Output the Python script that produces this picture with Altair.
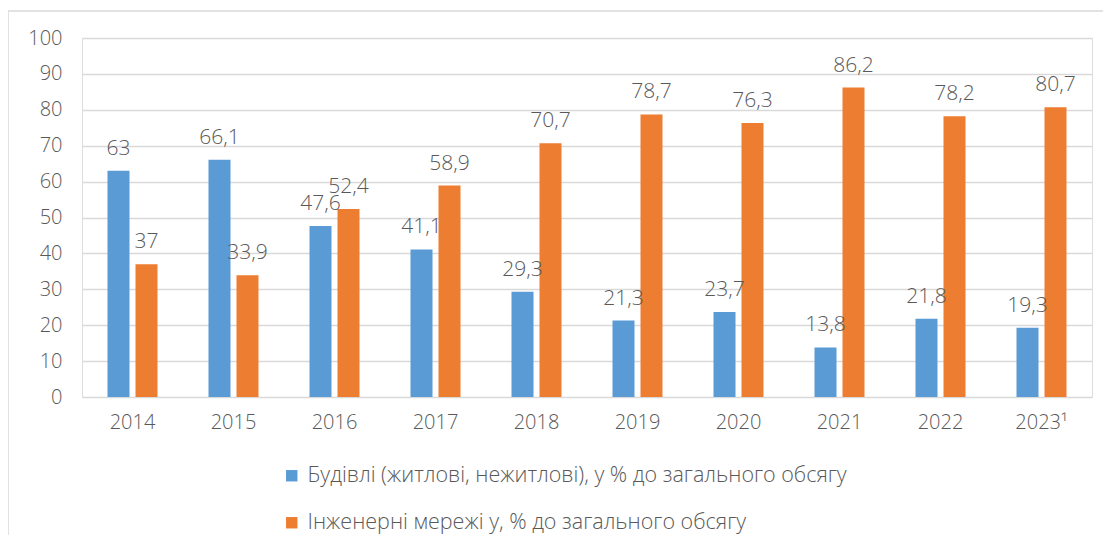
import altair as alt
import pandas as pd

years = ["2014", "2015", "2016", "2017", "2018", "2019", "2020", "2021", "2022", "2023¹"]
buildings = [63, 66.1, 47.6, 41.1, 29.3, 21.3, 23.7, 13.8, 21.8, 19.3]
networks = [37, 33.9, 52.4, 58.9, 70.7, 78.7, 76.3, 86.2, 78.2, 80.7]
series = ["Будівлі (житлові, нежитлові), у % до загального обсягу",
          "Інженерні мережі у, % до загального обсягу"]
colors = ["#5B9BD5", "#ED7D31"]

rows = []
for y, b, n in zip(years, buildings, networks):
    rows.append({"year": y, "series": series[0], "value": b})
    rows.append({"year": y, "series": series[1], "value": n})
df = pd.DataFrame(rows)
df["label"] = df["value"].map(lambda v: f"{v:g}".replace(".", ","))

FONT = "Open Sans"
TXT = "#595959"

x_enc = alt.X("year:N", sort=years, title=None,
              scale=alt.Scale(paddingInner=0, paddingOuter=0),
              axis=alt.Axis(labelAngle=0, ticks=False, domain=False, grid=False,
                            labelPadding=15, labelFontSize=20, labelColor=TXT,
                            labelFont=FONT, labelFontWeight=300))
xoff_enc = alt.XOffset("series:N", sort=series,
                       scale=alt.Scale(paddingInner=0.214, paddingOuter=0.911))
y_enc = alt.Y("value:Q", title=None,
              scale=alt.Scale(domain=[0, 100], nice=False),
              axis=alt.Axis(values=list(range(0, 101, 10)), ticks=False, domain=False,
                            labelOverlap=False, tickCount=11,
                            gridColor="#d9d9d9", gridWidth=1.5, labelPadding=20,
                            labelFontSize=20, labelColor=TXT, labelFont=FONT,
                            labelFontWeight=300))

base = alt.Chart(df)

bars = base.mark_bar().encode(
    x=x_enc,
    xOffset=xoff_enc,
    y=y_enc,
    color=alt.Color("series:N", sort=series,
                    scale=alt.Scale(domain=series, range=colors),
                    legend=alt.Legend(title=None, orient="none", legendX=199, legendY=427,
                                      direction="vertical", symbolType="square",
                                      symbolSize=130, symbolStrokeWidth=0,
                                      labelFontSize=21.5, labelColor=TXT,
                                      labelFont=FONT, labelFontWeight=300,
                                      labelLimit=900, rowPadding=24,
                                      labelOffset=5, padding=0)),
)

labels = base.mark_text(baseline="alphabetic", dy=-16, fontSize=21, color=TXT,
                        font=FONT, fontWeight=300).encode(
    x=alt.X("year:N", sort=years),
    xOffset=alt.XOffset("series:N", sort=series),
    y="value:Q",
    text="label:N",
)

frame = alt.Chart(pd.DataFrame({"a": [0]})).mark_rect(
    fill=None, stroke="#d9d9d9", strokeWidth=1.5).encode(
    x=alt.value(-74), x2=alt.value(1100), y=alt.value(-27), y2=alt.value(700))

chart = alt.layer(frame, bars, labels).properties(
    width=1010, height=359,
    autosize=alt.AutoSizeParams(type="none"),
    padding={"left": 74, "top": 30, "right": 11, "bottom": 138},
).configure_view(stroke=None).configure(background="white")

chart.save("out.html", embed_options={"renderer": "svg", "actions": False})
